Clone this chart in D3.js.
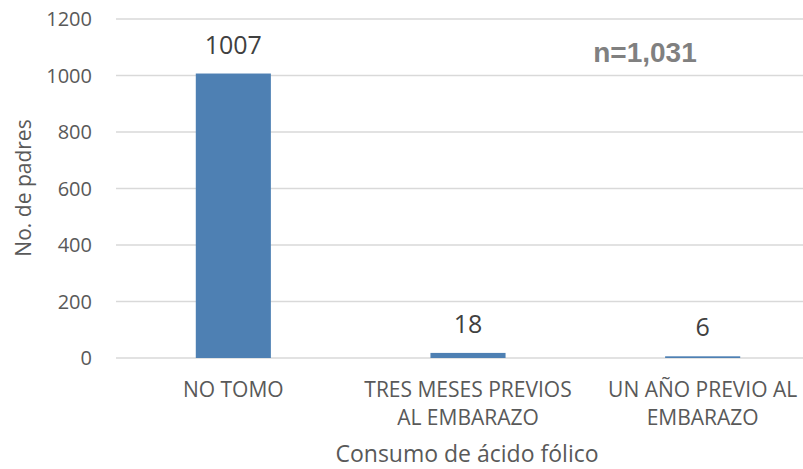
<!DOCTYPE html>
<html><head><meta charset="utf-8">
<script src="https://cdn.jsdelivr.net/npm/d3@7"></script>
<style>body{margin:0;background:#fff}svg{display:block}</style>
</head><body>
<script>
const categories = [["NO TOMO"], ["TRES MESES PREVIOS", "AL EMBARAZO"], ["UN AÑO PREVIO AL", "EMBARAZO"]];
const values = [1007, 18, 6];
const yTicks = [0, 200, 400, 600, 800, 1000, 1200];
const yTitle = "No. de padres";
const xTitle = "Consumo de ácido fólico";
const note = "n=1,031";

const W = 803, H = 469;
const font = "'Open Sans', sans-serif";
const svg = d3.select("body").append("svg").attr("width", W).attr("height", H);

const x = d3.scaleBand().domain(d3.range(categories.length)).range([116, 820]).paddingInner(0.68).paddingOuter(0.34);
const y = d3.scaleLinear().domain([0, 1200]).range([358, 19]);

// gridlines
svg.append("g").selectAll("line").data(yTicks).join("line")
  .attr("x1", 116).attr("x2", 820).attr("y1", d => y(d)).attr("y2", d => y(d))
  .attr("stroke", "#d9d9d9").attr("stroke-width", 1.3);

// y tick labels
svg.append("g").selectAll("text").data(yTicks).join("text")
  .attr("x", 92).attr("y", d => y(d)).attr("dy", "0.35em").attr("text-anchor", "end")
  .attr("font-family", font).attr("font-size", 20).attr("fill", "#595959").text(d => d);

// bars
svg.append("g").selectAll("rect").data(values).join("rect")
  .attr("x", (d, i) => x(i)).attr("width", x.bandwidth())
  .attr("y", d => y(d)).attr("height", d => y(0) - y(d)).attr("fill", "#4e80b3");

// data labels
svg.append("g").selectAll("text").data(values).join("text")
  .attr("x", (d, i) => x(i) + x.bandwidth() / 2).attr("y", d => y(d) - 20)
  .attr("text-anchor", "middle").attr("font-family", font).attr("font-size", 25)
  .attr("fill", "#404040").text(d => d);

// category labels
const cg = svg.append("g");
categories.forEach((lines, i) => {
  const t = cg.append("text").attr("text-anchor", "middle").attr("font-family", font)
    .attr("font-size", 21).attr("fill", "#595959");
  lines.forEach((l, j) => t.append("tspan").attr("x", x(i) + x.bandwidth() / 2).attr("y", 397 + j * 28).text(l));
});

// axis titles
svg.append("text").attr("transform", `translate(31,188) rotate(-90)`).attr("text-anchor", "middle")
  .attr("font-family", font).attr("font-size", 21).attr("fill", "#595959").text(yTitle);
svg.append("text").attr("x", 467).attr("y", 462).attr("text-anchor", "middle")
  .attr("font-family", font).attr("font-size", 23).attr("fill", "#595959").text(xTitle);

// note
svg.append("text").attr("x", 645).attr("y", 62).attr("text-anchor", "middle")
  .attr("font-family", "'Liberation Sans', Arial, sans-serif").attr("font-weight", "bold")
  .attr("font-size", 28).attr("fill", "#808080").text(note);
</script>
</body></html>
